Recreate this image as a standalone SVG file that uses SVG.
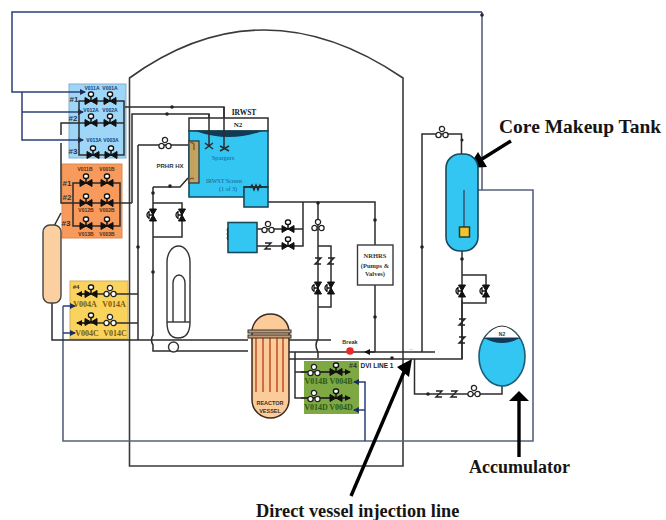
<svg xmlns="http://www.w3.org/2000/svg" width="666" height="520" viewBox="0 0 666 520">
<style>
text{font-family:"Liberation Sans",Arial,sans-serif}
.big{font-family:"Liberation Serif","Times New Roman",serif;font-weight:bold;fill:#151515}
.sf{font-family:"Liberation Serif","Times New Roman",serif}
.ln{fill:none;stroke:#2c2c2c;stroke-width:1.5}
.wall{fill:none;stroke:#3a3a3a;stroke-width:1.6}
.bl{fill:none;stroke:#2b3f78;stroke-width:1.5}
.gb{fill:none;stroke:#57627c;stroke-width:1.6}
.tb{fill:#33c6f2;stroke:#174a5c;stroke-width:1.6}
.lb{font-size:5px;font-weight:bold;fill:#16407a;text-anchor:middle}
.ol{font-size:5px;font-weight:bold;fill:#5a2c10;text-anchor:middle}
.yl{font-size:8px;font-weight:bold;fill:#7a5a10;text-anchor:middle;font-family:"Liberation Serif",serif}
.gl{font-size:8px;font-weight:bold;fill:#2f5a1a;text-anchor:middle;font-family:"Liberation Serif",serif}
.h{font-size:8px;font-weight:bold;fill:#333;text-anchor:middle}
.d{fill:#222}
.rod{stroke:#c4552c;stroke-width:1.6}
.th{stroke:#000;stroke-width:3.4;fill:none}
</style>
<defs>
<marker id="ah" markerUnits="userSpaceOnUse" markerWidth="6" markerHeight="6" refX="5" refY="3" orient="auto"><path d="M0 0L6 3L0 6Z" fill="#1c2c5c"/></marker>
<marker id="ak" markerUnits="userSpaceOnUse" markerWidth="6" markerHeight="6" refX="5" refY="3" orient="auto"><path d="M0 0L6 3L0 6Z" fill="#111"/></marker>
<g id="v"><path d="M-6 -3.5L0 0L-6 3.5ZM6 -3.5L0 0L6 3.5Z" fill="#111" stroke="#111"/><path d="M0 0V-5" stroke="#111" stroke-width="1.5"/><rect x="-2.5" y="-9" width="5" height="4.5" rx="2" fill="#fff" stroke="#111" stroke-width="1.4"/></g>
<g id="vd"><path d="M-3.5 -6L0 0L3.5 -6ZM-3.5 6L0 0L3.5 6Z" fill="#111" stroke="#111"/><path d="M0 0H-4" stroke="#111" stroke-width="1.5"/><path d="M-4 -3.5A4 4 0 0 0 -4 3.5Z" fill="#fff" stroke="#111" stroke-width="1.3"/></g>
<g id="t"><circle cx="0" cy="-4" r="2.6" fill="#fff" stroke="#222" stroke-width="1.3"/><circle cx="-3.5" cy="2" r="2.6" fill="#fff" stroke="#222" stroke-width="1.3"/><circle cx="3.5" cy="2" r="2.6" fill="#fff" stroke="#222" stroke-width="1.3"/></g>
<path id="z" d="M-3 -3H3L-3 3H3" fill="none" stroke="#222" stroke-width="1.4"/>
</defs>
<rect width="666" height="520" fill="#fff"/>

<g id="containment"><path class="wall" d="M129.500 78Q262 -18 403 78V466H129.500Z"/></g>

<g id="panel-blue"><rect x="69" y="84" width="57" height="74" fill="#9ed6f8" stroke="#85aecb"/>
<text class="lb" x="92" y="90">V011A</text><text class="lb" x="110" y="90">V001A</text>
<text class="lb" x="91" y="112">V012A</text><text class="lb" x="110" y="112">V002A</text>
<text class="lb" x="94" y="142">V013A</text><text class="lb" x="111" y="142">V003A</text>
<text class="h" x="74" y="102">#1</text><text class="h" x="73" y="121">#2</text><text class="h" x="73" y="154">#3</text></g>
<g id="panel-orange"><rect x="62" y="164" width="60" height="74" fill="#f79a5c" stroke="#d98a55"/>
<text class="ol" x="85" y="171">V011B</text><text class="ol" x="107" y="171">V001B</text>
<text class="ol" x="86" y="212">V012B</text><text class="ol" x="107" y="212">V002B</text>
<text class="ol" x="86" y="236">V013B</text><text class="ol" x="107" y="236">V003B</text>
<text class="h" x="67" y="186">#1</text><text class="h" x="67" y="200">#2</text><text class="h" x="66" y="226">#3</text></g>
<g id="panel-yellow"><rect x="70" y="281" width="58" height="58" fill="#f9d35c" stroke="#cdb25e"/>
<text class="yl" x="85" y="307">V004A</text><text class="yl" x="114" y="307">V014A</text>
<text class="yl" x="87" y="336">V004C</text><text class="yl" x="115" y="336">V014C</text>
<text class="h" x="76" y="289" style="font-size:6px">#4</text></g>
<g id="panel-green"><rect x="304" y="361" width="55" height="53" fill="#7da843"/>
<text class="gl" x="316" y="384">V014B</text><text class="gl" x="341" y="384">V004B</text>
<text class="gl" x="316" y="410">V014D</text><text class="gl" x="341" y="410">V004D</text>
<text class="h" x="353" y="368" style="font-size:7px">#4</text></g>

<g id="connectors">
<path class="gb" d="M482 12V190H533V441H63V306"/>
<path class="bl" d="M482 12H12V92H85" marker-end="url(#ah)"/>
<path class="bl" d="M22 92V140H83" marker-end="url(#ah)"/>
<path class="bl" d="M22 112H83" marker-end="url(#ah)"/>
<path class="bl" d="M63 306H75" marker-end="url(#ah)"/><path class="bl" d="M63 333H75" marker-end="url(#ah)"/>
<path class="bl" d="M365 441V382H354" marker-end="url(#ah)"/><path class="bl" d="M365 410H354" marker-end="url(#ah)"/>
<path class="gb" d="M464 232V190H482"/>
<path class="ln" d="M79 101H124V155H79ZM61 135V123H124M125 107H224V145M132 203V114H209V145"/>
<path class="ln" d="M61 143V203H132M61 213L53 228M73 183H120V226H73ZM73 203H120"/>
<path class="ln" d="M138 145H188M138 145V340M182 203V237M153 203H182V237H153M153 187V335Q150 340 153 345V351H248M153 187H180L188 178"/>
<path class="ln" d="M52 303V340H248M288 340H331M288 352H435M288 359H462V300M414.500 359V394H502V386"/>
<path class="ln" d="M77 294H138M77 323H138"/>
<path class="ln" d="M268 202H375V245M375 285V352M303 202V246H257M303 229H257M318 202V339Q314 345 318 352V358M318 246H331V307H318M422 352V134H461.500V154M462 251V359M462 275H486V303H462"/>
<path class="ln" d="M295 352V398H350M295 372H350"/>
<path class="ln" d="M301 372H350" marker-end="url(#ak)"/><path class="ln" d="M301 398H350" marker-end="url(#ak)"/>
<path class="ln" d="M90 294H77" marker-end="url(#ak)"/><path class="ln" d="M90 323H77" marker-end="url(#ak)"/>
<path class="ln" d="M375 352H365" marker-end="url(#ak)"/>
<g class="d"><circle cx="172" cy="107" r="1.800"/><circle cx="167" cy="114" r="1.800"/><circle cx="138" cy="247" r="1.800"/><circle cx="153" cy="272" r="1.800"/><circle cx="170" cy="186" r="1.800"/><circle cx="153" cy="193" r="1.800"/><circle cx="318" cy="203" r="1.800"/><circle cx="375" cy="220" r="1.800"/><circle cx="375" cy="317" r="1.800"/><circle cx="392" cy="358" r="1.800"/><circle cx="422" cy="247" r="1.800"/><circle cx="462" cy="140" r="1.500"/><circle cx="462" cy="259" r="1.800"/><circle cx="482" cy="15" r="1.800"/></g>
<path class="th" d="M511 141L482 159"/><path d="M487 167L468 168L478 152Z" fill="#000"/>
<path class="th" d="M519 457V400"/><path d="M509 401H529L519 391Z" fill="#000"/>
<path class="th" d="M351 496L404 372"/><path d="M412 359L397 367L409 377Z" fill="#000"/>
</g>

<g id="valves">
<use href="#v" x="91" y="101"/><use href="#v" x="110" y="101"/><use href="#v" x="91" y="123"/><use href="#v" x="110" y="123"/><use href="#v" x="93" y="155"/><use href="#v" x="111" y="155"/>
<use href="#v" x="86" y="183"/><use href="#v" x="107" y="183"/><use href="#v" x="86" y="203"/><use href="#v" x="107" y="203"/><use href="#v" x="86" y="226"/><use href="#v" x="107" y="226"/>
<use href="#v" x="91" y="294"/><use href="#t" x="110" y="292"/><use href="#v" x="91" y="322"/><use href="#t" x="110" y="321"/>
<use href="#t" x="314" y="371"/><use href="#v" x="336" y="372"/><use href="#t" x="314" y="397"/><use href="#v" x="336" y="398"/>
<use href="#t" x="165" y="144"/>
<use href="#vd" x="153" y="215"/><use href="#vd" x="182" y="215"/>
<use href="#t" x="268" y="228"/><use href="#v" x="288" y="229"/><use href="#z" x="268" y="246"/><use href="#v" x="288" y="246"/>
<use href="#t" x="318" y="226"/><use href="#z" x="318" y="261"/><use href="#z" x="331" y="261"/><use href="#vd" x="318" y="288"/><use href="#vd" x="331" y="288"/>
<use href="#t" x="442" y="133"/><use href="#vd" x="462" y="291"/><use href="#vd" x="486" y="291"/><use href="#z" x="462" y="322"/><use href="#z" x="462" y="340"/>
<use href="#z" x="439" y="394"/><use href="#z" x="454" y="394"/><use href="#t" x="474" y="392"/><circle cx="428" cy="394" r="1.800" fill="#222"/>
</g>

<g id="irwst">
<rect x="189" y="118" width="79" height="13" fill="#fff" stroke="#2c2c2c" stroke-width="1.500"/>
<path class="tb" d="M189 131H268V187H244V197H189Z"/><rect class="tb" x="244" y="187" width="24" height="20"/>
<path d="M195 131H262Q230 143 195 131Z" fill="#123a55"/>
<path class="ln" d="M209 114V145M224 107V148M205 143L213 149M213 143L205 149M220 146L229 151M229 146L220 151"/>
<path d="M250 188l2-3 2 5 2-5 2 5 2-5 2 3" fill="none" stroke="#222" stroke-width="1.300"/><path class="ln" d="M244 187H268"/>
<text class="big" x="244" y="115" text-anchor="middle" font-size="7.500">IRWST</text>
<text class="big" x="238" y="127" text-anchor="middle" font-size="7">N2</text>
<text class="sf" x="223" y="160" text-anchor="middle" font-size="6.500" fill="#15618f">Spargers</text>
<text class="sf" x="224" y="183" text-anchor="middle" font-size="6" fill="#15618f">IRWST Screen</text>
<text class="sf" x="228" y="191" text-anchor="middle" font-size="6" fill="#15618f">(1 of 3)</text>
</g>
<g id="prhr-hx"><rect x="189" y="141" width="10" height="42" fill="#b9a86a" stroke="#234" stroke-width="1.200"/><rect x="191" y="145" width="4" height="35" fill="#c6a15a"/><path d="M188 143Q191 141 194 144V150M188 181Q191 177 194 179" fill="none" stroke="#8a5a2a" stroke-width="1.500"/>
<text x="170" y="168" text-anchor="middle" font-size="6" font-weight="bold" fill="#333">PRHR HX</text></g>
<g id="small-tank"><rect class="tb" x="228" y="222.500" width="29" height="30"/><path d="M228 228q-2 2 0 4q-2 2 0 4q-2 2 0 4" fill="none" stroke="#222"/></g>
<g id="nrhrs"><rect x="357.500" y="245" width="35.500" height="40" fill="#fff" stroke="#3a3a3a" stroke-width="1.400"/>
<g font-size="6.500" font-weight="bold" fill="#333" text-anchor="middle"><text class="sf" x="375" y="258">NRHRS</text><text class="sf" x="375" y="268">(Pumps &amp;</text><text class="sf" x="375" y="276">Valves)</text></g></g>
<g id="pressurizer"><path d="M167 322V262a11.500 16 0 0 1 23 0V322Q190 338 178 338Q167 338 167 322Z" fill="#fff" stroke="#333" stroke-width="1.400"/><path d="M173 322V283a6 8 0 0 1 12 0V322" fill="#fff" stroke="#333" stroke-width="1.400"/><path d="M167 322H190" stroke="#333" stroke-width="1.400"/><circle cx="173.500" cy="347" r="5" fill="#fff" stroke="#333" stroke-width="1.400"/></g>
<g id="left-tank"><rect x="43" y="225" width="18" height="78" rx="7" fill="#fbcf9f" stroke="#444" stroke-width="1.400"/></g>
<g id="reactor-vessel"><path d="M252 332a18.500 18 0 0 1 37 0V400a18.500 18 0 0 1 -37 0Z" fill="#fbcb9a" stroke="#3a2a20" stroke-width="1.500"/>
<path class="rod" d="M256 335V392M263 335V392M270 335V392M277 335V392M283 335V392"/>
<rect x="248" y="330" width="43" height="3" fill="#c89a70" stroke="#333"/><rect x="248" y="335" width="43" height="3" fill="#c89a70" stroke="#333"/>
<text x="270" y="405" text-anchor="middle" font-size="5.500" font-weight="bold" fill="#333">REACTOR</text><text x="270" y="413" text-anchor="middle" font-size="5.500" font-weight="bold" fill="#333">VESSEL</text></g>
<g id="break"><circle cx="350" cy="351" r="3.800" fill="#ef2424"/><text x="350" y="344" text-anchor="middle" font-size="5.500" font-weight="bold" fill="#333">Break</text>
<text x="377" y="368" text-anchor="middle" font-size="6.500" font-weight="bold" fill="#222">DVI LINE 1</text><text x="411" y="350" text-anchor="middle" font-size="5" fill="#555">...</text></g>
<g id="cmt"><rect class="tb" x="446" y="154" width="32" height="97" rx="14"/><path d="M464 232V190" stroke="#3c5a76" stroke-width="1.600"/><rect x="459.500" y="227" width="10" height="10" fill="#f2c230" stroke="#23422a" stroke-width="1.500"/></g>
<g id="accumulator"><ellipse cx="502" cy="356.500" rx="23" ry="29.500" fill="#33c6f2" stroke="#1a5e78" stroke-width="1.600"/>
<path d="M484 338Q502 314 520 338Z" fill="#fff" stroke="#333" stroke-width="1"/><path d="M484 338H520Q502 348 484 338Z" fill="#12385a"/><text x="502" y="336" text-anchor="middle" font-size="5" font-weight="bold" fill="#333">N2</text></g>
<g id="labels">
<text class="big" x="499" y="133" font-size="19.500">Core Makeup Tank</text>
<text class="big" x="469" y="472.500" font-size="18">Accumulator</text>
<text class="big" x="256" y="517" font-size="18.300">Direct vessel injection line</text>
</g>
</svg>
